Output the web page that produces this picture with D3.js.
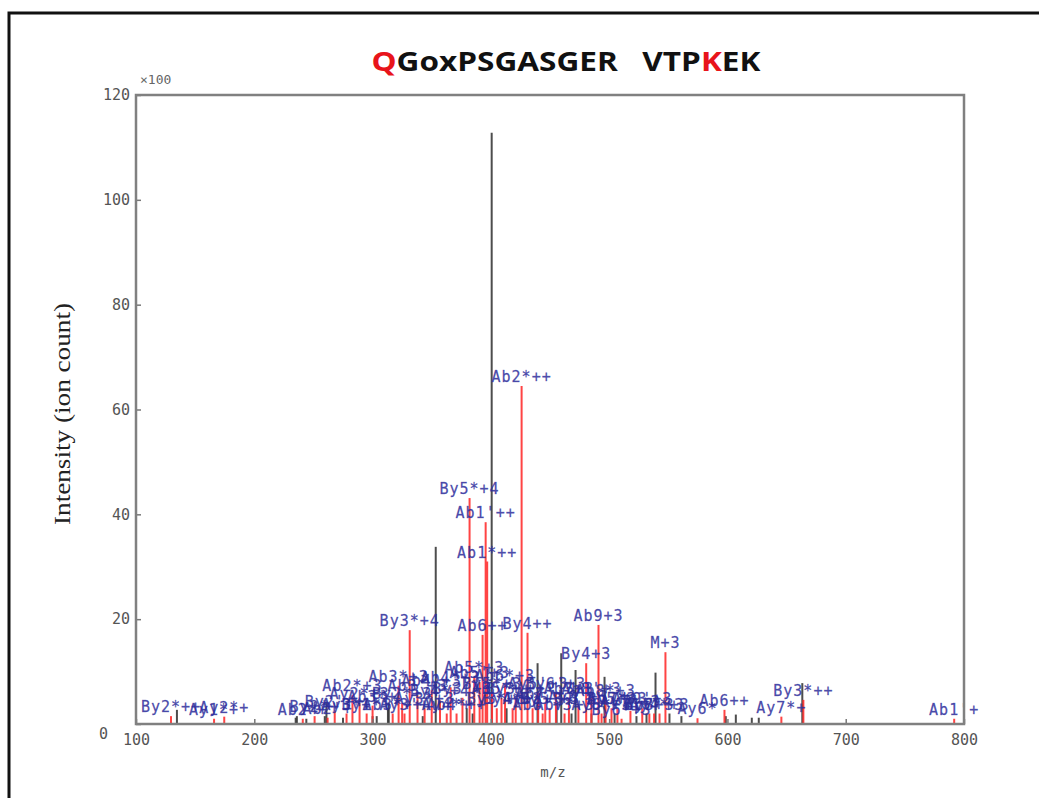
<!DOCTYPE html>
<html>
<head>
<meta charset="utf-8">
<script src="https://cdn.jsdelivr.net/npm/d3@7"></script>
<style>
  html, body { margin: 0; padding: 0; background: #fff; }
  svg { display: block; }
</style>
</head>
<body>
<svg id="chart" width="1039" height="798"></svg>
<script>
// Fragment-ion spectrum: intensities in units of ×100 ion counts.

// Matched fragment peaks (drawn red, annotated)
const matchedMz = [129.6, 166, 174.6, 241, 251, 262, 268, 278, 283, 289, 295, 300, 317,
  322, 325, 327, 331.4, 338, 344, 350, 357, 362.7, 366, 371, 376, 382, 386, 390.5, 393,
  395.6, 396.9, 401, 405, 409, 412, 418.4, 421, 426, 431, 435.3, 440, 443.8, 446, 449.7,
  455, 462.3, 466, 474, 480.6, 485, 491, 493.6, 497, 502, 507, 510.5, 518, 528, 534,
  538, 542.6, 547.6, 574.7, 597.5, 645.6, 664.2, 791.7];
const matchedInt = [1.5, 1.0, 1.4, 1.0, 1.5, 1.2, 2.5, 2.0, 5.5, 4.0, 2.0, 3.5, 2.0,
  7.3, 4.0, 2.0, 17.9, 5.5, 3.0, 6.5, 4.5, 2.0, 7.0, 2.0, 5.0, 43.1, 9.0, 8.0, 17.0,
  38.5, 31.0, 6.0, 3.0, 5.0, 7.5, 3.0, 5.0, 64.5, 17.4, 3.0, 6.0, 2.0, 4.0, 3.0,
  6.0, 2.0, 5.0, 3.5, 11.6, 5.0, 18.9, 2.0, 4.5, 3.0, 3.0, 1.0, 2.5, 3.0, 2.0,
  2.0, 2.0, 13.7, 1.1, 2.7, 1.4, 4.6, 1.0];
const matchedLabel = ["By2*++", "Ay1*+", "Ay2*+", "Ab2*+", "By2*+", "Ab2'+", "By2'++",
  "Ay3*+", "Ab2*+3", "Ay2*+3", "By1*+", "Ab3*+", "Ab3*++", "Ab3*+3", "By2*+3", "Ay3'+",
  "By3*+4", "Ab3'+3", "Ay3*+3", "Ab4'+3", "By4*+4", "Ay4*+", "Ab4*+3", "Ab4*++",
  "By3'+3", "By5*+4", "Ab5*+3", "Ab5'+3", "Ab6++", "Ab1'++", "Ab1*++", "By5*+3",
  "By3*+3", "Ab5*++", "Ab6*+3", "By4*+3", "By3'++", "Ab2*++", "By4++", "Ay5*+3",
  "Ay5'+3", "Ab6'+3", "Ab7'+3", "By5'+3", "By6'+3", "Ab7*+3", "Ab7+3", "Ay6'+3",
  "By4+3", "Ab8'+3", "Ab9+3", "Ay6*+3", "Ab8*+3", "Ab5+3", "By7*+3", "By6*+3",
  "Ay7'+3", "Ab9'+3", "Ab8+3", "By7'+3", "Ay4*+3", "M+3", "Ay6*", "Ab6++", "Ay7*+",
  "By3*++", "Ab1'+"];

// Unmatched peaks (drawn dark grey)
const otherMz = [134.6, 235, 236, 244, 259.6, 261, 275, 300, 303.5, 313, 313.7, 342.4,
  353.4, 379.6, 384.6, 400.7, 413.3, 439.5, 455.6, 459.5, 468.2, 471.6, 485.1, 496.1,
  504.6, 523.1, 531.6, 539.2, 551, 561.1, 598.6, 607.1, 620.6, 626.5, 663.3];
const otherInt = [2.7, 1.2, 1.5, 1.0, 1.5, 4.0, 1.2, 1.5, 1.5, 3.0, 4.0, 1.5,
  33.8, 3.0, 2.0, 112.8, 3.0, 11.6, 4.0, 13.5, 2.0, 10.3, 2.0, 9.0,
  2.0, 1.5, 2.0, 9.8, 2.0, 1.5, 1.5, 1.8, 1.2, 1.2, 7.8];

// Axis ticks
const xTicks = [100, 200, 300, 400, 500, 600, 700, 800];
const yTicks = [0, 20, 40, 60, 80, 100, 120];

// Title: sequence pieces, with modified residues highlighted
const titleParts = [
  { text: "Q", hl: true }, { text: "GoxPSGASGER\u00a0\u00a0\u00a0VTP", hl: false },
  { text: "K", hl: true }, { text: "EK", hl: false }
];

const svg = d3.select("#chart");
const margin = { left: 136, right: 1039 - 964, top: 95, bottom: 798 - 724 };
const W = 1039, H = 798;

const x = d3.scaleLinear().domain([100, 800]).range([margin.left, W - margin.right]);
const y = d3.scaleLinear().domain([0, 120]).range([H - margin.bottom, margin.top]);

// outer frame
svg.append("path")
  .attr("d", `M9,798 L9,13 L1039,13`)
  .attr("fill", "none").attr("stroke", "#111").attr("stroke-width", 3);

// title
const title = svg.append("text")
  .attr("x", 566).attr("y", 71)
  .attr("text-anchor", "middle")
  .attr("font-family", "Open Sans, sans-serif")
  .attr("font-weight", 700)
  .attr("font-size", 27)
  .attr("textLength", 389).attr("lengthAdjust", "spacingAndGlyphs");
titleParts.forEach(p => title.append("tspan").text(p.text).attr("fill", p.hl ? "#e8141b" : "#111"));

// peaks
const peakG = svg.append("g");
peakG.selectAll("line.other").data(d3.range(otherMz.length)).join("line")
  .attr("class", "other")
  .attr("x1", i => x(otherMz[i])).attr("x2", i => x(otherMz[i]))
  .attr("y1", y(0)).attr("y2", i => y(otherInt[i]))
  .attr("stroke", "#3a3a3a").attr("stroke-width", 2).attr("opacity", 0.9);
peakG.selectAll("line.match").data(d3.range(matchedMz.length)).join("line")
  .attr("class", "match")
  .attr("x1", i => x(matchedMz[i])).attr("x2", i => x(matchedMz[i]))
  .attr("y1", y(0)).attr("y2", i => y(matchedInt[i]))
  .attr("stroke", "#ff3030").attr("stroke-width", 2).attr("opacity", 0.9);

// ion annotations
svg.append("g").selectAll("text").data(d3.range(matchedMz.length)).join("text")
  .attr("x", i => x(matchedMz[i])).attr("y", i => y(matchedInt[i]) - 4)
  .attr("text-anchor", "middle")
  .attr("font-family", "DejaVu Sans Mono, monospace")
  .attr("font-size", 15).attr("letter-spacing", 1)
  .attr("fill", "#2d2d9c").attr("fill-opacity", 0.85)
  .attr("stroke", "#2d2d9c").attr("stroke-width", 0.35).attr("stroke-opacity", 0.6)
  .text(i => matchedLabel[i]);

// axes
const axisFont = "DejaVu Sans Mono, monospace";
const xAxis = svg.append("g").attr("transform", `translate(0,${y(0)})`)
  .call(d3.axisBottom(x).tickValues(xTicks).tickSize(-5).tickSizeOuter(0).tickPadding(10));
const yAxis = svg.append("g").attr("transform", `translate(${x(100)},0)`)
  .call(d3.axisLeft(y).tickValues(yTicks).tickSize(-5).tickSizeOuter(0).tickPadding(6));
[xAxis, yAxis].forEach(g => {
  g.select(".domain").remove();
  g.selectAll(".tick line").attr("stroke", "#777").attr("stroke-width", 1.5);
  g.selectAll(".tick text").attr("fill", "#555").attr("font-family", axisFont).attr("font-size", 15);
});
yAxis.selectAll(".tick text").filter(d => d === 0).attr("dx", -22).attr("dy", "0.95em");

// plot frame
svg.append("rect")
  .attr("x", x(100)).attr("y", y(120))
  .attr("width", x(800) - x(100)).attr("height", y(0) - y(120))
  .attr("fill", "none").attr("stroke", "#808080").attr("stroke-width", 2.5);

// scale multiplier and axis titles
svg.append("text").attr("x", 140).attr("y", 84)
  .attr("font-family", axisFont).attr("font-size", 13).attr("fill", "#666")
  .text("×100");
svg.append("text").attr("x", 553).attr("y", 777).attr("text-anchor", "middle")
  .attr("font-family", axisFont).attr("font-size", 14).attr("fill", "#555")
  .text("m/z");
svg.append("text")
  .attr("transform", "translate(70,414) rotate(-90)")
  .attr("text-anchor", "middle")
  .attr("font-family", "Liberation Serif, serif").attr("font-size", 24).attr("fill", "#222")
  .attr("textLength", 222).attr("lengthAdjust", "spacingAndGlyphs")
  .text("Intensity (ion count)");
</script>
</body>
</html>
